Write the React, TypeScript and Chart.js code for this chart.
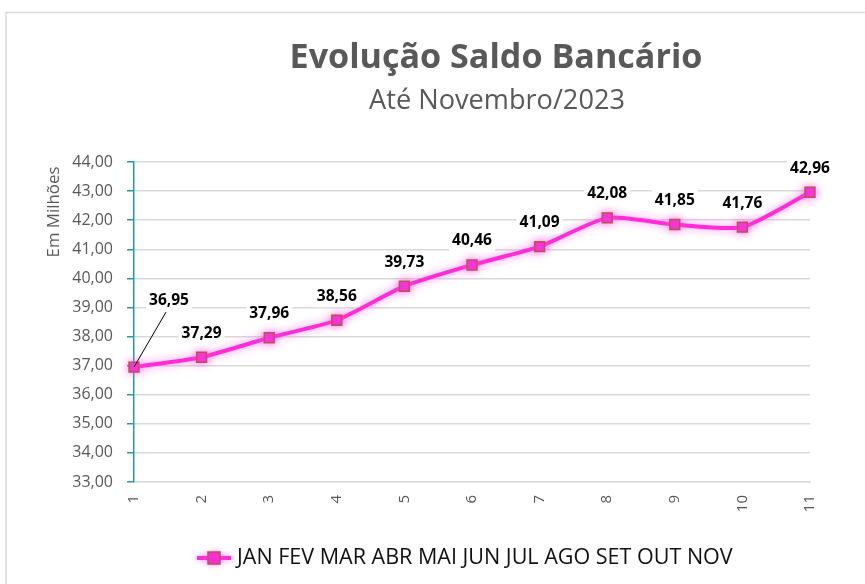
import React, { useEffect, useRef } from "react";
import { Chart, registerables } from "chart.js";

Chart.register(...registerables);

const categories = ["1", "2", "3", "4", "5", "6", "7", "8", "9", "10", "11"];
const saldo = [36.95, 37.29, 37.96, 38.56, 39.73, 40.46, 41.09, 42.08, 41.85, 41.76, 42.96];
const seriesName = "JAN FEV MAR ABR MAI JUN JUL AGO SET OUT NOV";
const titleText = "Evolução Saldo Bancário";
const subtitleText = "Até Novembro/2023";
const yAxisTitle = "Em Milhões";
const yMin = 33;
const yMax = 44;

const FONT = "Open Sans";
const GRAY = "#595959";
const LINE = "#FF2BD6";
const MARK_FILL = "#F52ED8";
const MARK_BORDER = "#C0504D";
const TEAL = "#1E9E9E";

const fmt = (v: number) => v.toFixed(2).replace(".", ",");

function fitFont(ctx: CanvasRenderingContext2D, text: string, weight: string, target: number, start: number) {
  let size = start;
  ctx.font = `${weight} ${size}px "${FONT}"`;
  const w = ctx.measureText(text).width;
  size = size * target / w;
  ctx.font = `${weight} ${size}px "${FONT}"`;
  return size;
}

const decor = {
  id: "decor",
  beforeDraw(chart: any) {
    const ctx = chart.ctx as CanvasRenderingContext2D;
    ctx.save();
    ctx.fillStyle = "#ffffff";
    ctx.fillRect(0, 0, chart.width, chart.height);
    ctx.strokeStyle = "#d9d9d9";
    ctx.lineWidth = 1.5;
    ctx.strokeRect(6, 12.5, chart.width + 10, chart.height + 10);
    ctx.restore();
  },
  beforeDatasetDraw(chart: any) {
    const ctx = chart.ctx as CanvasRenderingContext2D;
    ctx.save();
    ctx.shadowColor = "rgba(255, 90, 235, 0.75)";
    ctx.shadowBlur = 8;
  },
  afterDatasetDraw(chart: any) {
    chart.ctx.restore();
  },
  afterDatasetsDraw(chart: any) {
    const ctx = chart.ctx as CanvasRenderingContext2D;
    const meta = chart.getDatasetMeta(0);
    ctx.save();
    fitFont(ctx, "36,95", "bold", 40, 15);
    ctx.textAlign = "center";
    ctx.textBaseline = "middle";
    meta.data.forEach((pt: any, i: number) => {
      const text = fmt(saldo[i]);
      let lx = pt.x;
      let ly = pt.y - 24;
      if (i === 0) {
        lx = pt.x + 35;
        ly = pt.y - 67;
      }
      const w = ctx.measureText(text).width;
      ctx.fillStyle = "#ffffff";
      ctx.fillRect(lx - w / 2 - 3, ly - 11, w + 6, 22);
      if (i === 0) {
        ctx.strokeStyle = "#000000";
        ctx.lineWidth = 1;
        ctx.beginPath();
        ctx.moveTo(pt.x, pt.y);
        ctx.lineTo(lx - 3, ly + 12);
        ctx.stroke();
      }
      ctx.fillStyle = "#000000";
      ctx.fillText(text, lx, ly);
    });
    ctx.restore();
  },
  afterDraw(chart: any) {
    const ctx = chart.ctx as CanvasRenderingContext2D;
    ctx.save();
    ctx.textAlign = "center";
    ctx.textBaseline = "middle";
    ctx.fillStyle = GRAY;
    fitFont(ctx, titleText, "bold", 413, 30);
    ctx.fillText(titleText, 496, 58);
    fitFont(ctx, subtitleText, "normal", 256, 24);
    ctx.fillText(subtitleText, 497, 101);

    // y axis title
    ctx.save();
    ctx.translate(54, 212);
    ctx.rotate(-Math.PI / 2);
    fitFont(ctx, yAxisTitle, "normal", 91, 14);
    ctx.fillText(yAxisTitle, 0, 0);
    ctx.restore();

    // legend
    const ly = 558;
    ctx.save();
    ctx.shadowColor = "rgba(255, 90, 235, 0.75)";
    ctx.shadowBlur = 6;
    ctx.strokeStyle = LINE;
    ctx.lineWidth = 4;
    ctx.beginPath();
    ctx.moveTo(197, ly);
    ctx.lineTo(231, ly);
    ctx.stroke();
    ctx.fillStyle = MARK_FILL;
    ctx.fillRect(208, ly - 6, 12, 12);
    ctx.restore();
    ctx.strokeStyle = MARK_BORDER;
    ctx.lineWidth = 1.5;
    ctx.strokeRect(208, ly - 6, 12, 12);
    ctx.fillStyle = "#111111";
    ctx.textAlign = "left";
    fitFont(ctx, seriesName, "normal", 496, 18);
    ctx.fillText(seriesName, 237, ly);
    ctx.restore();
  },
};

export default function App() {
  const ref = useRef<HTMLCanvasElement | null>(null);
  useEffect(() => {
    if (!ref.current) return;
    const chart = new Chart(ref.current, {
      type: "line",
      data: {
        labels: categories,
        datasets: [
          {
            label: seriesName,
            data: saldo,
            borderColor: LINE,
            borderWidth: 4,
            tension: 0.2,
            pointStyle: "rect",
            pointRadius: 7,
            pointBackgroundColor: MARK_FILL,
            pointBorderColor: MARK_BORDER,
            pointBorderWidth: 1.5,
            clip: false as any,
          },
        ],
      },
      options: {
        responsive: false,
        animation: false,
        events: [],
        layout: { padding: { left: 40, top: 162, right: 55, bottom: 40 } },
        plugins: {
          legend: { display: false },
          title: { display: false },
          tooltip: { enabled: false },
        },
        scales: {
          x: {
            type: "category",
            offset: false,
            grid: { display: false },
            border: { display: true, color: "#d9d9d9", width: 1.5 },
            ticks: {
              minRotation: 90,
              maxRotation: 90,
              padding: 5,
              color: GRAY,
              font: { family: FONT, size: 15 },
            },
            afterFit: (s: any) => {
              s.height = 62;
            },
          },
          y: {
            min: yMin,
            max: yMax,
            grid: {
              color: "#d9d9d9",
              lineWidth: 1.5,
              tickColor: TEAL,
              tickLength: 7,
              tickWidth: 1.5,
            },
            border: { display: true, color: TEAL, width: 1.5 },
            ticks: {
              stepSize: 1,
              padding: 14,
              color: GRAY,
              font: { family: FONT, size: 16 },
              callback: (v: any) => fmt(Number(v)),
            },
            afterFit: (s: any) => {
              s.width = 94;
            },
          },
        },
      },
      plugins: [decor],
    });
    return () => chart.destroy();
  }, []);
  return (
    <div style={{ position: "fixed", left: 0, top: 0, width: 865, height: 584 }}>
      <canvas ref={ref} width={865} height={584} style={{ width: 865, height: 584 }} />
    </div>
  );
}
